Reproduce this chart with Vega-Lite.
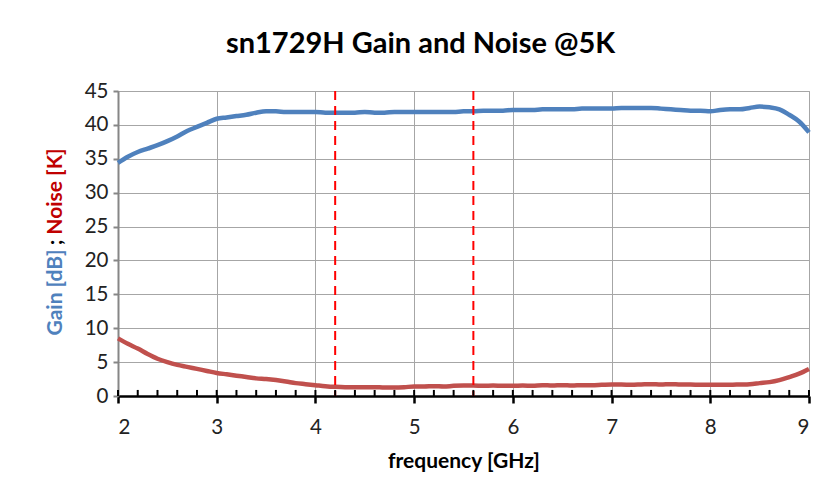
{
  "$schema": "https://vega.github.io/schema/vega-lite/v6.json",
  "autosize": "none",
  "width": 691,
  "height": 305,
  "padding": {"left": 118, "top": 91, "right": 20, "bottom": 106},
  "background": "white",
  "config": {
    "font": "Lato",
    "view": {"stroke": "#a6a6a6", "strokeWidth": 1}
  },
  "title": {
    "text": "sn1729H Gain and Noise @5K",
    "font": "Lato",
    "fontSize": 29,
    "fontWeight": "bold",
    "color": "#000000",
    "anchor": "middle",
    "dx": -43,
    "offset": 22
  },
  "datasets": {
    "sweep": [
      {"f": 2.0, "gain": 34.4, "noise": 8.5},
      {"f": 2.1, "gain": 35.3, "noise": 7.7},
      {"f": 2.2, "gain": 36.0, "noise": 7.0},
      {"f": 2.3, "gain": 36.5, "noise": 6.2},
      {"f": 2.4, "gain": 37.0, "noise": 5.5},
      {"f": 2.5, "gain": 37.6, "noise": 5.0},
      {"f": 2.6, "gain": 38.3, "noise": 4.6},
      {"f": 2.7, "gain": 39.1, "noise": 4.3},
      {"f": 2.8, "gain": 39.7, "noise": 4.0},
      {"f": 2.9, "gain": 40.3, "noise": 3.7},
      {"f": 3.0, "gain": 40.9, "noise": 3.4},
      {"f": 3.1, "gain": 41.1, "noise": 3.2},
      {"f": 3.2, "gain": 41.3, "noise": 3.0},
      {"f": 3.3, "gain": 41.5, "noise": 2.8},
      {"f": 3.4, "gain": 41.8, "noise": 2.6},
      {"f": 3.5, "gain": 42.0, "noise": 2.5},
      {"f": 3.6, "gain": 42.0, "noise": 2.35},
      {"f": 3.7, "gain": 41.9, "noise": 2.15},
      {"f": 3.8, "gain": 41.9, "noise": 1.9},
      {"f": 3.9, "gain": 41.9, "noise": 1.75},
      {"f": 4.0, "gain": 41.9, "noise": 1.6},
      {"f": 4.1, "gain": 41.8, "noise": 1.45},
      {"f": 4.2, "gain": 41.8, "noise": 1.35},
      {"f": 4.3, "gain": 41.8, "noise": 1.3},
      {"f": 4.4, "gain": 41.8, "noise": 1.3},
      {"f": 4.5, "gain": 41.9, "noise": 1.3},
      {"f": 4.6, "gain": 41.8, "noise": 1.3},
      {"f": 4.7, "gain": 41.8, "noise": 1.25},
      {"f": 4.8, "gain": 41.9, "noise": 1.25},
      {"f": 4.9, "gain": 41.9, "noise": 1.3},
      {"f": 5.0, "gain": 41.9, "noise": 1.4},
      {"f": 5.1, "gain": 41.9, "noise": 1.4},
      {"f": 5.2, "gain": 41.9, "noise": 1.45},
      {"f": 5.3, "gain": 41.9, "noise": 1.4},
      {"f": 5.4, "gain": 41.9, "noise": 1.5},
      {"f": 5.5, "gain": 42.0, "noise": 1.55},
      {"f": 5.6, "gain": 42.0, "noise": 1.55},
      {"f": 5.7, "gain": 42.1, "noise": 1.5},
      {"f": 5.8, "gain": 42.1, "noise": 1.55},
      {"f": 5.9, "gain": 42.1, "noise": 1.5},
      {"f": 6.0, "gain": 42.2, "noise": 1.5},
      {"f": 6.1, "gain": 42.2, "noise": 1.55},
      {"f": 6.2, "gain": 42.2, "noise": 1.5},
      {"f": 6.3, "gain": 42.3, "noise": 1.6},
      {"f": 6.4, "gain": 42.3, "noise": 1.55},
      {"f": 6.5, "gain": 42.3, "noise": 1.6},
      {"f": 6.6, "gain": 42.3, "noise": 1.55},
      {"f": 6.7, "gain": 42.4, "noise": 1.6},
      {"f": 6.8, "gain": 42.4, "noise": 1.6},
      {"f": 6.9, "gain": 42.4, "noise": 1.65},
      {"f": 7.0, "gain": 42.4, "noise": 1.7},
      {"f": 7.1, "gain": 42.5, "noise": 1.7},
      {"f": 7.2, "gain": 42.5, "noise": 1.65},
      {"f": 7.3, "gain": 42.5, "noise": 1.7},
      {"f": 7.4, "gain": 42.5, "noise": 1.75},
      {"f": 7.5, "gain": 42.4, "noise": 1.7},
      {"f": 7.6, "gain": 42.3, "noise": 1.75},
      {"f": 7.7, "gain": 42.2, "noise": 1.7},
      {"f": 7.8, "gain": 42.1, "noise": 1.7},
      {"f": 7.9, "gain": 42.1, "noise": 1.65},
      {"f": 8.0, "gain": 42.0, "noise": 1.65},
      {"f": 8.1, "gain": 42.2, "noise": 1.65},
      {"f": 8.2, "gain": 42.3, "noise": 1.65},
      {"f": 8.3, "gain": 42.3, "noise": 1.7},
      {"f": 8.4, "gain": 42.5, "noise": 1.75},
      {"f": 8.5, "gain": 42.7, "noise": 1.9},
      {"f": 8.6, "gain": 42.6, "noise": 2.05},
      {"f": 8.7, "gain": 42.3, "noise": 2.35},
      {"f": 8.8, "gain": 41.5, "noise": 2.8},
      {"f": 8.9, "gain": 40.5, "noise": 3.3},
      {"f": 9.0, "gain": 38.9, "noise": 4.0}
    ],
    "band": [
      {"f": 4.2},
      {"f": 5.6}
    ],
    "minorTicks": [
      {"f": 2.0}, {"f": 2.2}, {"f": 2.4}, {"f": 2.6}, {"f": 2.8},
      {"f": 3.0}, {"f": 3.2}, {"f": 3.4}, {"f": 3.6}, {"f": 3.8},
      {"f": 4.0}, {"f": 4.2}, {"f": 4.4}, {"f": 4.6}, {"f": 4.8},
      {"f": 5.0}, {"f": 5.2}, {"f": 5.4}, {"f": 5.6}, {"f": 5.8},
      {"f": 6.0}, {"f": 6.2}, {"f": 6.4}, {"f": 6.6}, {"f": 6.8},
      {"f": 7.0}, {"f": 7.2}, {"f": 7.4}, {"f": 7.6}, {"f": 7.8},
      {"f": 8.0}, {"f": 8.2}, {"f": 8.4}, {"f": 8.6}, {"f": 8.8},
      {"f": 9.0}
    ]
  },
  "resolve": {"axis": {"x": "independent", "y": "independent"}},
  "layer": [
    {
      "data": {"name": "sweep"},
      "mark": {"type": "line", "color": "#4f81bd", "strokeWidth": 4.5, "interpolate": "monotone"},
      "encoding": {
        "x": {
          "field": "f",
          "type": "quantitative",
          "scale": {"domain": [2, 9], "nice": false, "zero": false},
          "axis": {
            "orient": "bottom",
            "values": [2, 3, 4, 5, 6, 7, 8, 9],
            "format": "d",
            "grid": true,
            "gridColor": "#a6a6a6",
            "gridWidth": 1,
            "domainColor": "#000000",
            "domainWidth": 2.5,
            "tickColor": "#000000",
            "tickWidth": 2.5,
            "tickSize": 7,
            "labelFontSize": 20.5,
            "labelColor": "#222222",
            "labelPadding": 14,
            "title": "frequency [GHz]",
            "titleFontSize": 21,
            "titleFontWeight": "bold",
            "titleColor": "#000000",
            "titlePadding": 13
          }
        },
        "y": {
          "field": "gain",
          "type": "quantitative",
          "scale": {"domain": [0, 45], "nice": false},
          "axis": {
            "orient": "left",
            "values": [0, 5, 10, 15, 20, 25, 30, 35, 40, 45],
            "grid": true,
            "gridColor": "#a6a6a6",
            "gridWidth": 1,
            "domainColor": "#868686",
            "domainWidth": 2,
            "tickColor": "#868686",
            "tickWidth": 2,
            "tickSize": 5,
            "labelFontSize": 20.5,
            "labelColor": "#222222",
            "labelPadding": 5,
            "title": "Gain [dB]",
            "titleColor": "#4f81bd",
            "titleFontSize": 21,
            "titleFontWeight": "bold",
            "titleAngle": 270,
            "titleAlign": "center",
            "titleBaseline": "middle",
            "titleX": -63,
            "titleY": 201
          }
        }
      }
    },
    {
      "data": {"name": "sweep"},
      "mark": {"type": "line", "color": "#c0504d", "strokeWidth": 4.5, "interpolate": "monotone"},
      "encoding": {
        "x": {"field": "f", "type": "quantitative", "axis": null},
        "y": {
          "field": "noise",
          "type": "quantitative",
          "axis": {
            "orient": "left",
            "grid": false,
            "domain": false,
            "labels": false,
            "ticks": false,
            "title": "Noise [K]",
            "titleColor": "#c00000",
            "titleFontSize": 21,
            "titleFontWeight": "bold",
            "titleAngle": 270,
            "titleAlign": "center",
            "titleBaseline": "middle",
            "titleX": -63,
            "titleY": 100
          }
        }
      }
    },
    {
      "data": {"name": "band"},
      "mark": {"type": "rule", "color": "#ff0000", "strokeWidth": 2, "strokeDash": [9, 6]},
      "encoding": {
        "x": {"field": "f", "type": "quantitative", "axis": null},
        "y": {
          "datum": 45,
          "type": "quantitative",
          "axis": {
            "orient": "left",
            "grid": false,
            "domain": false,
            "labels": false,
            "ticks": false,
            "title": ";",
            "titleColor": "#000000",
            "titleFontSize": 21,
            "titleFontWeight": "bold",
            "titleAngle": 270,
            "titleAlign": "center",
            "titleBaseline": "middle",
            "titleX": -63,
            "titleY": 151
          }
        },
        "y2": {"datum": 0}
      }
    },
    {
      "data": {"name": "minorTicks"},
      "mark": {"type": "tick", "orient": "vertical", "color": "#000000", "size": 6, "thickness": 2, "opacity": 1},
      "encoding": {
        "x": {"field": "f", "type": "quantitative", "axis": null},
        "y": {"datum": 0.45, "type": "quantitative", "axis": null}
      }
    }
  ]
}
